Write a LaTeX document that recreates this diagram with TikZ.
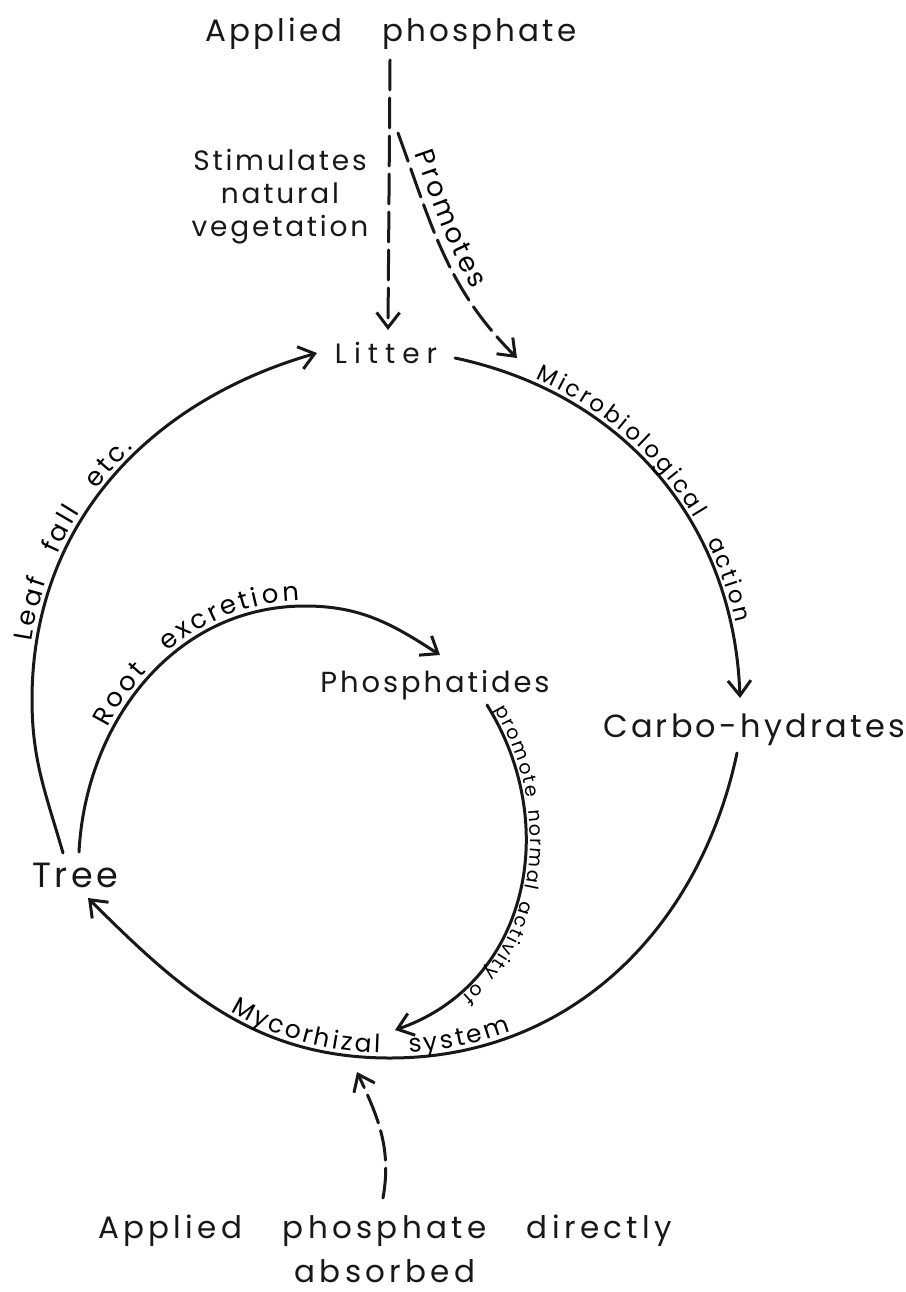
\documentclass[tikz,border=0pt]{standalone}
\usepackage{fontspec}
\usepackage{xcolor}
\usetikzlibrary{arrows.meta,decorations.text}
\newfontfamily\lettering{Poppins}[LetterSpace=10,WordSpace=3.5]
\newfontfamily\letteringmid{Poppins}[LetterSpace=14,WordSpace=3.2]
\newfontfamily\letterarc{Poppins}[WordSpace=3.2]
\newfontfamily\lettertight{Poppins}[WordSpace=1.6]
\definecolor{ink}{RGB}{24,24,24}
% fonts for the texts that run along the arcs (kern = letter spacing)
\newcommand\arcfont{\letterarc\fontsize{26}{26}\selectfont\kern2.8pt}
\newcommand\rimfont{\letterarc\fontsize{25}{25}\selectfont\kern3pt}
\newcommand\microfont{\letterarc\fontsize{23}{23}\selectfont\kern2.6pt}
\newcommand\promfont{\letterarc\fontsize{27}{27}\selectfont\kern3pt}
\newcommand\notefont{\lettertight\fontsize{19}{19}\selectfont\kern1.8pt}
\tikzset{
  term/.style={inner sep=0pt, text=ink, font={\lettering\fontsize{#1}{#1}\selectfont}},
  flow/.style={draw=ink, line width=3pt, line cap=round,
               -{Straight Barb[length=15pt,width=23pt]}},
  dashflow/.style={flow, dash pattern=on 30pt off 8pt},
  lbl/.style n args={3}{postaction={decorate, decoration={text along path,
               text={#1}, text align={left indent=#2}, raise=#3}}},
}

\begin{document}
\begin{tikzpicture}[x=1pt,y=1pt]
  \useasboundingbox (0,0) rectangle (905,-1292);

  % the pools
  \node[term=31, anchor=base] (applied) at (391,-42) {Applied phosphate};
  \node[term=28, align=center, anchor=north,
        font={\lettering\fontsize{28}{33}\selectfont}] (stim) at (280,-149)
        {Stimulates\\natural\\vegetation};
  \node[term=28, anchor=base] (litter) at (386,-363) {\addfontfeature{LetterSpace=25}Litter};
  \node[term=29, anchor=base] (phos) at (435,-692) {Phosphatides};
  \node[term=32, anchor=base] (carbo) at (754,-737) {Carbo-hydrates};
  \node[term=35, anchor=base] (tree) at (75,-887) {Tree};
  \node[term=31, align=center, anchor=north,
        font={\letteringmid\fontsize{31}{44}\selectfont}]
        (absorb) at (385,-1215) {Applied phosphate directly\\absorbed};

  \coordinate (fork) at (398,-133);
  \coordinate (promtip) at (517,-358);
  \coordinate (mycoin) at (395,-1030);
  \coordinate (dashin) at (357,-1072);

  % applied phosphate from above
  \draw[dashflow] ([shift={(-1,-18)}]applied.base) -- ([shift={(2,33)}]litter.base);
  \draw[dashflow, lbl={|\promfont|Promotes}{22pt}{9pt}]
    (fork) to[out=-70,in=135] (promtip);

  % outer cycle
  \draw[flow, lbl={|\arcfont|Leaf {\kern8pt}fall {\kern8pt}etc.}{212pt}{5pt}]
    ([shift={(-12,34)}]tree.base) to[out=106,in=270] (32,-700)
    to[out=90,in=196] ([shift={(-69,10)}]litter.base);
  \draw[flow, lbl={|\microfont|Microbiological {\kern8pt}action}{80pt}{5pt}]
    ([shift={(69,5)}]litter.base) to[out=-12,in=92] ([shift={(-14,39)}]carbo.base);
  \draw[flow, postaction={decorate, decoration={text along path, reverse path,
        text={|\rimfont|Mycorhizal {\kern10pt}system}, text align={left indent=180pt}, raise=5pt}}]
    ([shift={(-17,-16)}]carbo.base) to[out=258,in=0] (390,-1058)
    to[out=180,in=-45] ([shift={(13,-11)}]tree.base);

  % inner loop
  \draw[flow, lbl={|\arcfont|Root {\kern8pt}excretion}{125pt}{5pt}]
    ([shift={(4,35)}]tree.base) to[out=87,in=180] (305,-606)
    to[out=0,in=147] ([shift={(5,37)}]phos.base);
  \draw[flow, lbl={|\notefont|promote normal activity of}{6pt}{4pt}]
    ([shift={(52,-13)}]phos.base) to[out=-58,in=19,looseness=1.07] (mycoin);

  % direct uptake
  \draw[dashflow] ([shift={(-2,17)}]absorb.north) to[out=80,in=-65] (dashin);
\end{tikzpicture}
\end{document}
